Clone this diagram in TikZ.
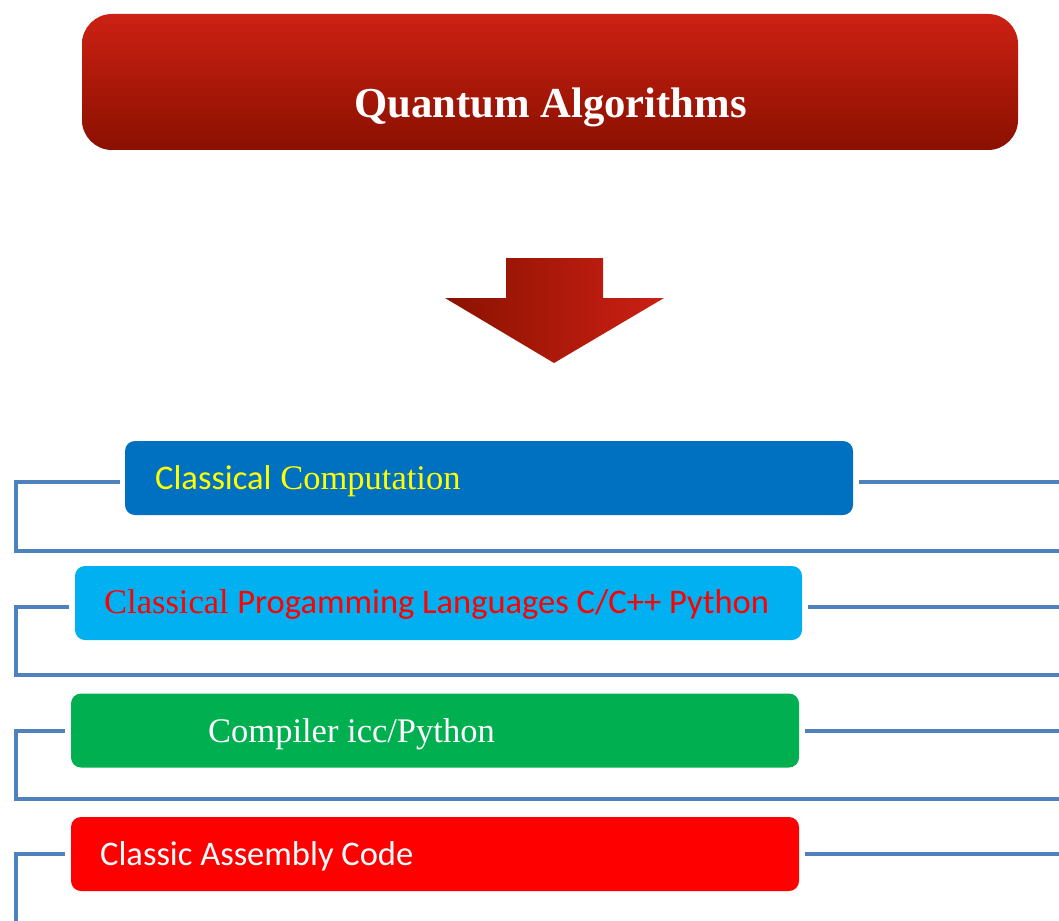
\documentclass[tikz,border=0pt]{standalone}
\usepackage{fontspec}
\setmainfont{Liberation Serif}
\newfontfamily\calfont{Carlito}
\usetikzlibrary{calc}
\definecolor{titletop}{HTML}{CC2113}
\definecolor{titlebot}{HTML}{8A1000}
\definecolor{arrL}{HTML}{8A1200}
\definecolor{arrR}{HTML}{CC2014}
\definecolor{bxblue}{HTML}{0070C0}
\definecolor{bxcyan}{HTML}{00B0F0}
\definecolor{bxgreen}{HTML}{00B050}
\definecolor{bxred}{HTML}{FF0000}
\definecolor{conn}{HTML}{4F81BD}
\definecolor{txtyellow}{HTML}{FFFF00}
\tikzset{
  stagebox/.style={rectangle, rounded corners=10pt, minimum width=728pt, minimum height=74pt, inner sep=0pt, draw=none},
  stagetext/.style={anchor=base west, inner sep=0pt, font=\fontsize{34.5}{40}\selectfont},
  connline/.style={draw=conn, line width=4.3pt},
}
\begin{document}
\begin{tikzpicture}[x=1pt, y=-1pt]
\useasboundingbox (0,0) rectangle (1059,920);
% title
\node[rectangle, rounded corners=30pt, minimum width=936pt, minimum height=136pt, inner sep=0pt,
      top color=titletop, bottom color=titlebot] (title) at (550,82) {};
\node[anchor=base, inner sep=0pt, text=white, font=\fontsize{42.7}{48}\selectfont\bfseries] (titletext) at (550.5,118) {Quantum Algorithms};
% arrow
\path[left color=arrL, right color=arrR] (506,258) -- (603,258) -- (603,298) -- (664,298) -- (554,363) -- (445,298) -- (506,298) -- cycle;
% boxes
\node[stagebox, fill=bxblue] (b1) at (489,478) {};
\node[stagebox, fill=bxcyan, minimum width=727pt] (b2) at (438.5,603) {};
\node[stagebox, fill=bxgreen] (b3) at (435,730.5) {};
\node[stagebox, fill=bxred] (b4) at (435,854) {};
% texts
\node[stagetext, text=txtyellow] (t1) at (155,489) {{\calfont Classical} Computation};
\node[stagetext, text=red] (t2) at (104,613) {Classical {\calfont Progamming Languages C/C++ Python}};
\node[stagetext, text=white] (t3) at (208,742) {Compiler icc/Python};
\node[stagetext, text=white] (t4) at (100,865) {\calfont Classic Assembly Code};
% connector coordinates
\coordinate (l1a) at (16,482);
\coordinate (l1b) at (16,551);
\coordinate (r1b) at (1059,551);
\coordinate (r1) at (1059,482);
\coordinate (l2a) at (16,607);
\coordinate (l2b) at (16,675);
\coordinate (r2b) at (1059,675);
\coordinate (r2) at (1059,607);
\coordinate (l3a) at (16,731);
\coordinate (l3b) at (16,799);
\coordinate (r3b) at (1059,799);
\coordinate (r3) at (1059,731);
\coordinate (l4a) at (16,854);
\coordinate (l4b) at (16,922);
\coordinate (r4) at (1059,854);
% connectors
\draw[connline] ($(b1.west|-l1a)+(-5,0)$) -- (l1a) -- (l1b) -- (r1b);
\draw[connline] ($(b1.east|-r1)+(6,0)$) -- (r1);
\draw[connline] ($(b2.west|-l2a)+(-6,0)$) -- (l2a) -- (l2b) -- (r2b);
\draw[connline] ($(b2.east|-r2)+(6,0)$) -- (r2);
\draw[connline] ($(b3.west|-l3a)+(-6,0)$) -- (l3a) -- (l3b) -- (r3b);
\draw[connline] ($(b3.east|-r3)+(6,0)$) -- (r3);
\draw[connline] ($(b4.west|-l4a)+(-6,0)$) -- (l4a) -- (l4b);
\draw[connline] ($(b4.east|-r4)+(6,0)$) -- (r4);
\end{tikzpicture}
\end{document}
